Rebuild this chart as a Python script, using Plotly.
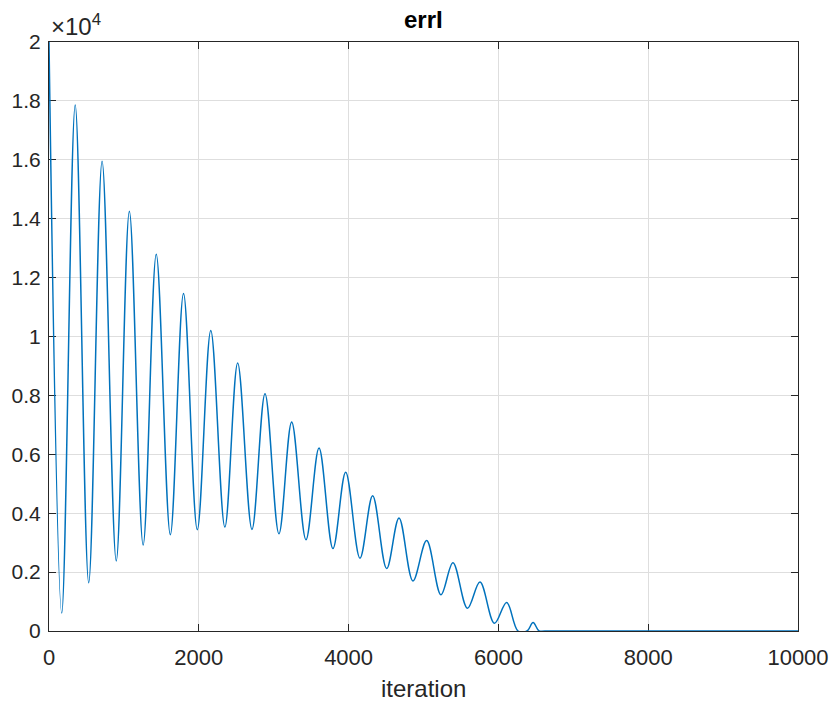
import plotly.graph_objects as go

# Values (peaks / troughs of errI)
iteration = [0, 170, 350, 530, 709, 898, 1073, 1257, 1432, 1620, 1796, 1980,
             2160, 2348, 2519, 2710, 2884, 3070, 3240, 3431, 3605, 3791, 3961,
             4152, 4321, 4508, 4673, 4859, 5042, 5233, 5393, 5587, 5754, 5947,
             6110, 6262, 6383, 6463, 6543, 6620, 10000]
errI = [20000, 610, 17860, 1640, 15950, 2380, 14250, 2920, 12790, 3270, 11460, 3440,
        10200, 3530, 9100, 3450, 8060, 3300, 7100, 3100, 6210, 2800, 5390,
        2470, 4590, 2120, 3840, 1700, 3070, 1230, 2320, 770, 1660, 260,
        970, 0, 0, 290, 0, 0, 0]

x_ticks = [0, 2000, 4000, 6000, 8000, 10000]
x_tick_labels = ["0", "2000", "4000", "6000", "8000", "10000"]
y_ticks = [0, 2000, 4000, 6000, 8000, 10000, 12000, 14000, 16000, 18000, 20000]
y_tick_labels = ["0", "0.2", "0.4", "0.6", "0.8", "1", "1.2", "1.4", "1.6", "1.8", "2"]

FONT = "Liberation Sans, Arial, Helvetica, sans-serif"
AX = "#262626"
GRID = "#dedede"

fig = go.Figure()
fig.add_trace(go.Scatter(
    x=iteration, y=errI, mode="lines",
    line=dict(color="#0072BD", width=1.5, shape="spline", smoothing=1.0),
    showlegend=False, hoverinfo="x+y",
))

fig.update_layout(
    template="none",
    width=832, height=702,
    margin=dict(l=49, r=34, t=42, b=71, autoexpand=False),
    paper_bgcolor="white", plot_bgcolor="white",
    font=dict(family=FONT, size=21, color=AX),
    annotations=[
        dict(text="<b>errI</b>", xref="paper", yref="paper", x=0.5, y=1.0,
             xanchor="center", yanchor="bottom", yshift=7, showarrow=False,
             font=dict(family=FONT, size=24, color="black")),
        dict(text="iteration", xref="paper", yref="paper", x=0.5, y=0.0,
             xanchor="center", yanchor="top", yshift=-42, showarrow=False,
             font=dict(family=FONT, size=24, color=AX)),
        dict(text="×10<sup>4</sup>", xref="paper", yref="paper", x=0.0, y=1.0,
             xanchor="left", yanchor="bottom", xshift=0, yshift=0, showarrow=False,
             font=dict(family=FONT, size=24, color=AX)),
    ],
)

fig.update_xaxes(
    range=[0, 10000], tickvals=x_ticks, ticktext=x_tick_labels, automargin=False,
    showgrid=True, gridcolor=GRID, gridwidth=1, zeroline=False,
    showline=True, linecolor=AX, linewidth=1, mirror="ticks",
    ticks="inside", ticklen=7, tickcolor=AX, tickwidth=1,
    tickfont=dict(family=FONT, size=22, color=AX), ticklabelstandoff=7,
    layer="below traces",
)
fig.update_yaxes(
    range=[0, 20000], tickvals=y_ticks, ticktext=y_tick_labels, automargin=False,
    showgrid=True, gridcolor=GRID, gridwidth=1, zeroline=False,
    showline=True, linecolor=AX, linewidth=1, mirror="ticks",
    ticks="inside", ticklen=7, tickcolor=AX, tickwidth=1,
    tickfont=dict(family=FONT, size=21, color=AX), ticklabelstandoff=3,
    layer="below traces",
)

fig.write_html(
    "out.html",
    config={"displayModeBar": False},
    post_script="document.body.style.margin='0px';"
                "document.documentElement.style.overflow='hidden';",
)
